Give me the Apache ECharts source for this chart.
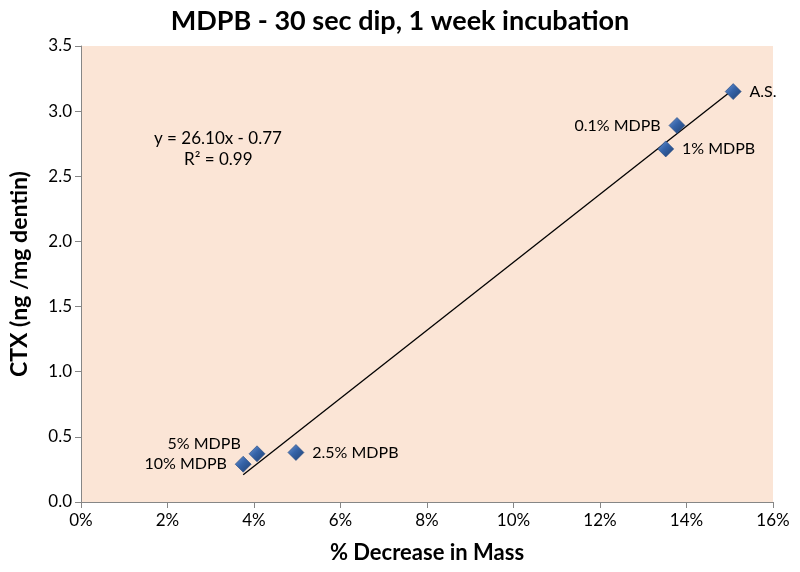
<!DOCTYPE html>
<html><head><meta charset="utf-8">
<script src="https://cdn.jsdelivr.net/npm/echarts@6/dist/echarts.min.js"></script>
<style>html,body{margin:0;padding:0;background:#fff}#c{width:800px;height:572px}</style>
</head><body><div id="c"></div>
<script>
const labels = ['A.S.', '0.1% MDPB', '1% MDPB', '2.5% MDPB', '5% MDPB', '10% MDPB'];
const massDecrease = [0.1508, 0.1378, 0.1352, 0.0497, 0.0407, 0.0375];
const ctx = [3.15, 2.89, 2.71, 0.38, 0.37, 0.29];
const labelPos = ['right', 'left', 'right', 'right', 'left', 'left'];
const slope = 26.10, intercept = -0.77;
const xTicks = [0, 0.02, 0.04, 0.06, 0.08, 0.10, 0.12, 0.14, 0.16];

const xMin = Math.min(...massDecrease), xMax = Math.max(...massDecrease);
const trend = [[xMin, slope * xMin + intercept], [xMax, slope * xMax + intercept]];

const font = 'Lato, "Open Sans", sans-serif';
const chart = echarts.init(document.getElementById('c'));
chart.setOption({
  backgroundColor: '#fff',
  animation: false,
  title: { text: 'MDPB - 30 sec dip, 1 week incubation', left: 'center', top: 3,
    textStyle: { fontFamily: font, fontSize: 27, fontWeight: 'bold', color: '#000' } },
  grid: { left: 76, right: 27, top: 46, bottom: 70, show: true, backgroundColor: '#FBE5D6', borderWidth: 0 },
  xAxis: { type: 'value', min: 0, max: 0.16, interval: 0.02,
    name: '% Decrease in Mass', nameLocation: 'middle', nameGap: 40,
    nameTextStyle: { fontFamily: font, fontSize: 22, fontWeight: 'bold', color: '#000' },
    axisLine: { show: true, lineStyle: { color: '#868686' } },
    axisTick: { show: true, length: 6, lineStyle: { color: '#868686' } },
    splitLine: { show: false },
    axisLabel: { fontFamily: font, fontSize: 17, color: '#000', margin: 10,
      formatter: v => Math.round(v * 100) + '%' } },
  yAxis: { type: 'value', min: 0, max: 3.5, interval: 0.5,
    name: 'CTX (ng /mg dentin)', nameLocation: 'middle', nameGap: 50,
    nameTextStyle: { fontFamily: font, fontSize: 23, fontWeight: 'bold', color: '#000' },
    axisLine: { show: true, lineStyle: { color: '#868686' } },
    axisTick: { show: true, length: 6, lineStyle: { color: '#868686' } },
    splitLine: { show: false },
    axisLabel: { fontFamily: font, fontSize: 17, color: '#000', margin: 9,
      formatter: v => v.toFixed(1) } },
  series: [
    { type: 'line', data: trend, symbol: 'none', silent: true,
      lineStyle: { color: '#000', width: 1.3 }, z: 2 },
    { type: 'scatter', symbol: 'diamond', symbolSize: 16, z: 3,
      data: massDecrease.map((x, i) => ({ value: [x, ctx[i]],
        label: { show: true, position: labelPos[i], formatter: labels[i], distance: 8,
          fontFamily: font, fontSize: 16, color: '#000',
          offset: labels[i] === '5% MDPB' ? [0, -10] : [0, 0] } })),
      itemStyle: { opacity: 1, color: new echarts.graphic.LinearGradient(0, 0, 1, 1, [
          { offset: 0, color: '#6F98D4' }, { offset: 0.45, color: '#3563A8' }, { offset: 1, color: '#1E3F70' }]),
        borderColor: '#24487F', borderWidth: 0.6 } }
  ],
  graphic: [
    { type: 'text', left: 154, top: 130, style: { text: 'y = 26.10x - 0.77', font: '17px ' + font, fill: '#000' } },
    { type: 'text', left: 184, top: 151, style: { text: 'R² = 0.99', font: '17px ' + font, fill: '#000' } }
  ]
});
</script></body></html>
